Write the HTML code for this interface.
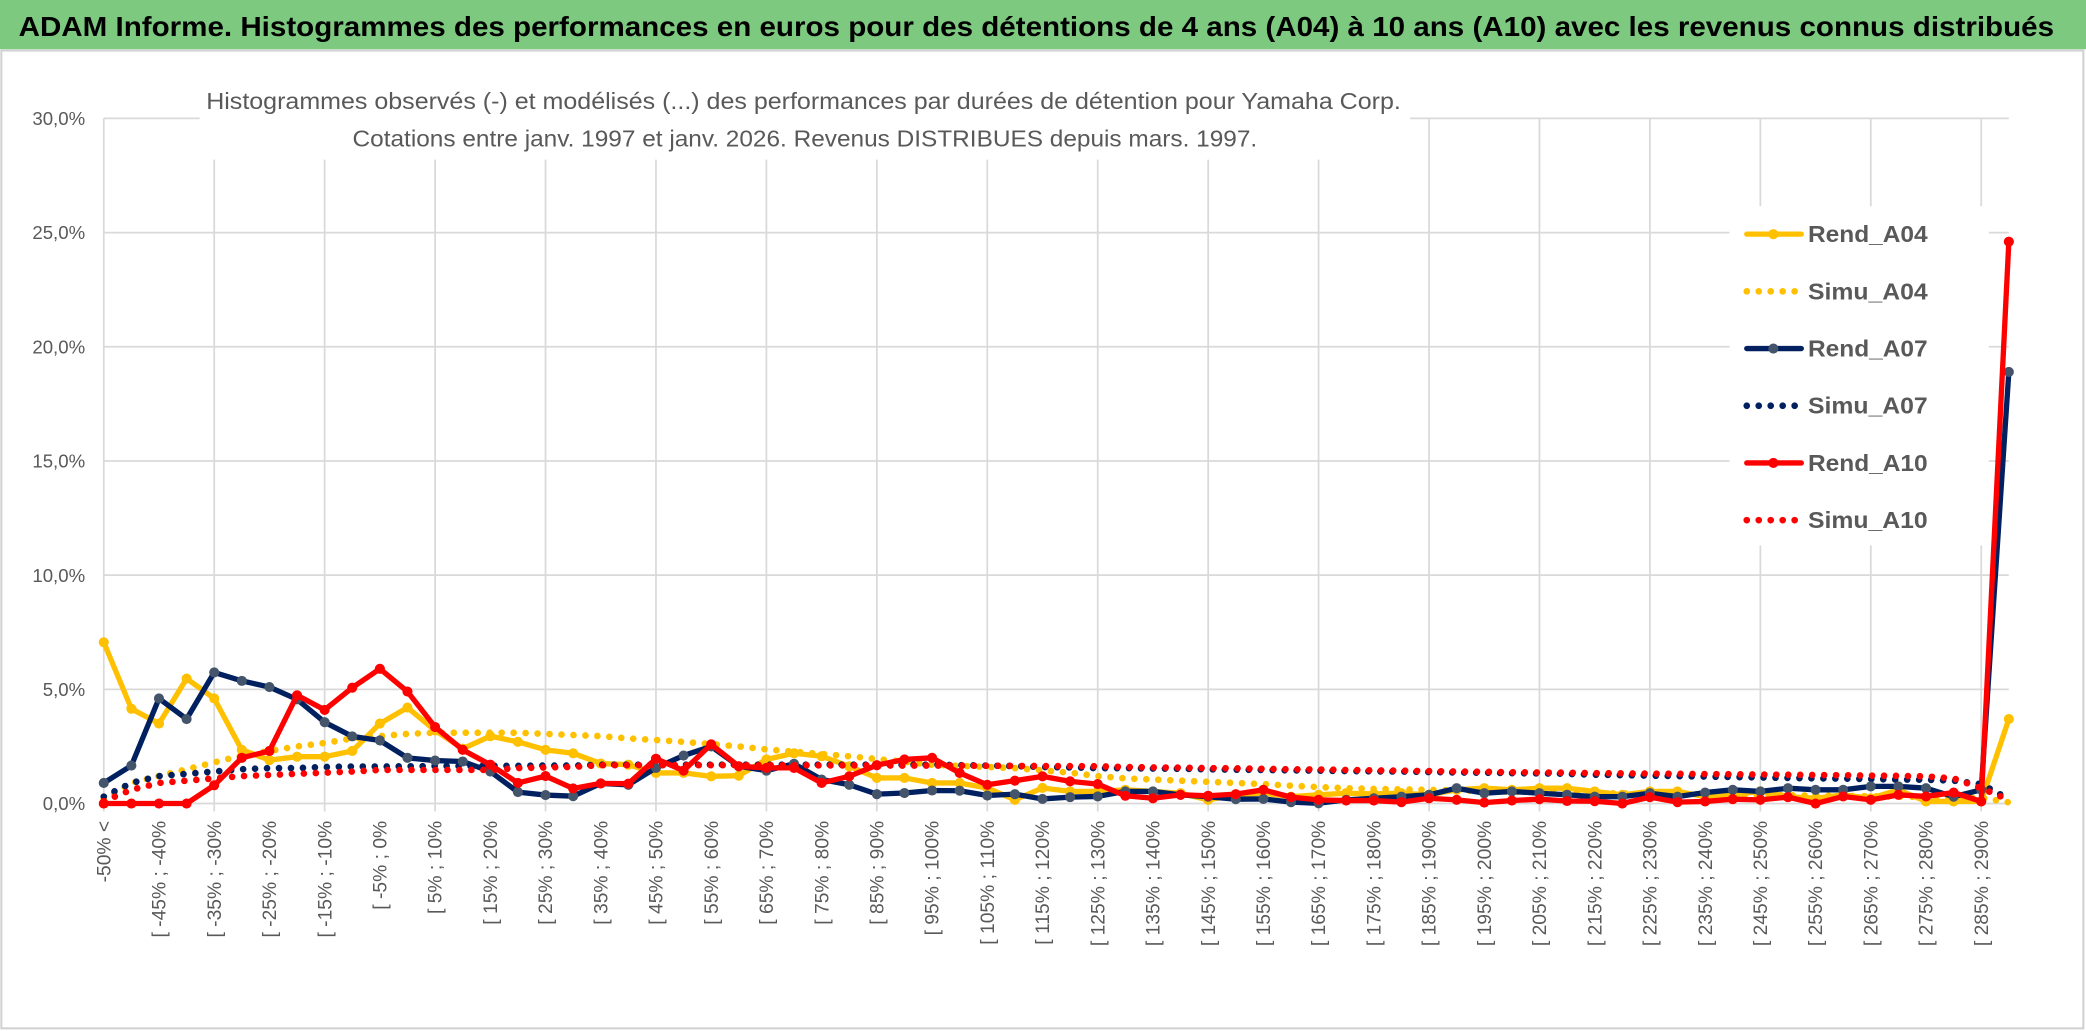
<!DOCTYPE html>
<html><head><meta charset="utf-8"><style>
html,body{margin:0;padding:0;background:#fff;}
svg{display:block;}
text{font-family:"Liberation Sans Narrow","Liberation Sans",sans-serif;}
</style></head><body>
<svg id="chart" width="2086" height="1031" viewBox="0 0 1568 775" preserveAspectRatio="none" xmlns="http://www.w3.org/2000/svg">
<rect x="0" y="0" width="1568" height="775" fill="#fff"/>
<rect x="0" y="0" width="1568" height="37" fill="#7DC97F"/>
<text x="14" y="27" font-size="21" font-weight="bold" fill="#000" textLength="1530" lengthAdjust="spacingAndGlyphs">ADAM Informe. Histogrammes des performances en euros pour des détentions de 4 ans (A04) à 10 ans (A10) avec les revenus connus distribués</text>
<rect x="1" y="38" width="1565" height="735" fill="none" stroke="#d0d0d0" stroke-width="1.5"/>
<g id="grid"></g>
<g id="yaxis"></g>
<g id="xaxis"></g>
<g id="series"></g>
<rect x="150" y="60" width="910" height="60" fill="#fff"/>
<text x="604" y="82" font-size="17.5" fill="#595959" text-anchor="middle" textLength="898" lengthAdjust="spacingAndGlyphs">Histogrammes observés (-) et modélisés (...) des performances par durées de détention pour Yamaha Corp.</text>
<text x="605" y="110" font-size="17.5" fill="#595959" text-anchor="middle" textLength="680" lengthAdjust="spacingAndGlyphs">Cotations entre janv. 1997 et janv. 2026. Revenus DISTRIBUES depuis mars. 1997.</text>
<g id="legend"></g>
</svg>
<script>
const rendA04=[7.06,4.15,3.5,5.47,4.6,2.35,1.9,2.05,2.05,2.3,3.5,4.2,3.2,2.4,2.95,2.7,2.35,2.2,1.75,1.7,1.34,1.34,1.19,1.22,1.93,2.2,2.07,1.63,1.12,1.12,0.9,0.9,0.68,0.16,0.68,0.53,0.53,0.6,0.53,0.45,0.16,0.38,0.45,0.3,0.38,0.45,0.42,0.45,0.38,0.6,0.67,0.6,0.67,0.67,0.53,0.38,0.53,0.53,0.3,0.38,0.53,0.3,0.23,0.38,0.23,0.6,0.09,0.09,0.09,3.7];
const simuA04=[0.2,0.9,1.2,1.5,1.8,2.1,2.3,2.5,2.65,2.85,2.95,3.05,3.1,3.1,3.1,3.1,3.05,3.0,2.95,2.85,2.78,2.7,2.6,2.5,2.37,2.27,2.17,2.07,1.95,1.83,1.7,1.65,1.6,1.55,1.45,1.35,1.2,1.1,1.05,1.0,0.95,0.9,0.85,0.78,0.72,0.67,0.64,0.62,0.6,0.57,0.55,0.52,0.5,0.48,0.46,0.44,0.43,0.42,0.4,0.39,0.38,0.36,0.35,0.33,0.32,0.3,0.29,0.27,0.25,0.05];
const rendA07=[0.9,1.66,4.6,3.7,5.74,5.37,5.1,4.56,3.56,2.94,2.76,2.0,1.88,1.84,1.4,0.5,0.37,0.32,0.88,0.82,1.56,2.1,2.5,1.63,1.44,1.74,1.05,0.82,0.41,0.46,0.57,0.56,0.35,0.41,0.2,0.28,0.31,0.53,0.53,0.38,0.3,0.19,0.2,0.06,0.01,0.16,0.23,0.3,0.38,0.67,0.45,0.53,0.45,0.38,0.3,0.3,0.45,0.3,0.48,0.6,0.53,0.67,0.6,0.6,0.75,0.75,0.67,0.3,0.6,18.9];
const simuA07=[0.3,0.9,1.2,1.3,1.4,1.5,1.55,1.55,1.6,1.62,1.62,1.63,1.64,1.64,1.65,1.65,1.66,1.66,1.7,1.7,1.7,1.7,1.7,1.7,1.7,1.7,1.7,1.7,1.7,1.7,1.7,1.68,1.66,1.64,1.6,1.58,1.55,1.55,1.53,1.52,1.5,1.48,1.47,1.45,1.44,1.42,1.41,1.4,1.38,1.36,1.35,1.33,1.32,1.3,1.26,1.24,1.22,1.2,1.18,1.16,1.14,1.12,1.1,1.09,1.07,1.05,1.04,1.0,0.85,0.2];
const rendA10=[0,0,0,0,0.8,2.0,2.3,4.74,4.1,5.07,5.9,4.9,3.35,2.35,1.7,0.9,1.2,0.66,0.88,0.87,1.96,1.44,2.59,1.63,1.56,1.56,0.9,1.19,1.68,1.93,2.0,1.34,0.82,1.0,1.19,0.97,0.85,0.34,0.23,0.38,0.34,0.41,0.6,0.28,0.16,0.13,0.13,0.06,0.23,0.16,0.04,0.13,0.19,0.11,0.1,0,0.28,0.06,0.09,0.19,0.16,0.28,0,0.31,0.16,0.38,0.31,0.48,0.09,24.6];
const simuA10=[0.1,0.6,0.9,1.0,1.1,1.2,1.25,1.3,1.35,1.4,1.47,1.47,1.47,1.47,1.47,1.55,1.58,1.6,1.68,1.68,1.68,1.68,1.68,1.68,1.68,1.68,1.67,1.67,1.67,1.66,1.66,1.66,1.65,1.65,1.64,1.64,1.63,1.6,1.58,1.57,1.55,1.54,1.52,1.5,1.49,1.47,1.45,1.44,1.42,1.4,1.39,1.37,1.36,1.35,1.33,1.32,1.31,1.3,1.29,1.28,1.27,1.26,1.25,1.24,1.22,1.21,1.19,1.1,0.67,0.16];
const yTicks=[0,5,10,15,20,25,30];
const yTickLabels=["0,0%","5,0%","10,0%","15,0%","20,0%","25,0%","30,0%"];
const categories=["-50% <"];
for(let k=1;k<70;k++){const a=-50+5*(k-1);categories.push("[ "+a+"% ; "+(a+5)+"%");}

const NS="http://www.w3.org/2000/svg";
const X0=78,X1=1510,Y0=604,Y30=89;
function xs(i){return X0+(X1-X0)*i/(categories.length-1);}
function ys(v){return Y0-(Y0-Y30)*v/30;}
function mk(tag,attrs,parent){const e=document.createElementNS(NS,tag);for(const k in attrs)e.setAttribute(k,attrs[k]);parent.appendChild(e);return e;}

const grid=document.getElementById('grid');
yTicks.forEach(function(t){
  const l=mk('line',{x1:X0,x2:X1,y1:ys(t),y2:ys(t),stroke:'#d9d9d9','stroke-width':1.3},grid);
  
  
});
for(let i=0;i<categories.length;i+=4){
  const l=mk('line',{x1:xs(i),x2:xs(i),y1:Y30,y2:Y0+6,stroke:'#d9d9d9','stroke-width':1.3},grid);
  
  
}
const ya=document.getElementById('yaxis');
yTicks.forEach(function(t,i){
  const tx=mk('text',{x:64,y:ys(t)+5,'font-size':14,fill:'#595959','text-anchor':'end'},ya);
  tx.textContent=yTickLabels[i];
  
  
});
const xa=document.getElementById('xaxis');
for(let i=0;i<categories.length;i+=2){
  const x=xs(i)+5,y=617;
  const tx=mk('text',{x:x,y:y,'font-size':14.5,fill:'#595959','text-anchor':'end',transform:'rotate(-90 '+x+' '+y+')'},xa);
  tx.textContent=categories[i];
  
  
}
const sg=document.getElementById('series');
function drawLine(vals,color,marker,name){
  const pts=vals.map(function(v,i){return xs(i)+','+ys(v);}).join(' ');
  const p=mk('polyline',{points:pts,fill:'none',stroke:color,'stroke-width':4,'stroke-linejoin':'round','stroke-linecap':'round'},sg);
  
  
  vals.forEach(function(v,i){
    const c=mk('circle',{cx:xs(i),cy:ys(v),r:3.8,fill:marker},sg);
    
    
  });
}
function drawDots(vals,color,name){
  const pts=vals.map(function(v,i){return xs(i)+','+ys(v);}).join(' ');
  const p=mk('polyline',{points:pts,fill:'none',stroke:color,'stroke-width':5,'stroke-linecap':'round','stroke-dasharray':'0 9'},sg);
  
  
}
drawDots(simuA04,'#FFC000','simu-a04');
drawLine(rendA04,'#FFC000','#FFC000','rend-a04');
drawDots(simuA07,'#002060','simu-a07');
drawLine(rendA07,'#002060','#44546A','rend-a07');
drawDots(simuA10,'#FF0000','simu-a10');
drawLine(rendA10,'#FF0000','#FF0000','rend-a10');

const lg=document.getElementById('legend');
const lr=mk('rect',{x:1300,y:155,width:195,height:255,fill:'#fff'},lg);


const legNames=['Rend_A04','Simu_A04','Rend_A07','Simu_A07','Rend_A10','Simu_A10'];
const legColors=['#FFC000','#FFC000','#002060','#002060','#FF0000','#FF0000'];
const legMarkers=['#FFC000',null,'#44546A',null,'#FF0000',null];
legNames.forEach(function(n,i){
  const y=176+i*43;
  const g=mk('g',{},lg);
  
  
  if(legMarkers[i]){
    mk('line',{x1:1313,x2:1354,y1:y,y2:y,stroke:legColors[i],'stroke-width':4,'stroke-linecap':'round'},g);
    mk('circle',{cx:1333,cy:y,r:3.8,fill:legMarkers[i]},g);
  } else {
    mk('line',{x1:1313,x2:1354,y1:y,y2:y,stroke:legColors[i],'stroke-width':5,'stroke-linecap':'round','stroke-dasharray':'0 9'},g);
  }
  const t=mk('text',{x:1359,y:y+6,'font-size':17.5,'font-weight':'bold',fill:'#595959',textLength:90,lengthAdjust:'spacingAndGlyphs'},g);
  t.textContent=n;
});
</script>
</body></html>
